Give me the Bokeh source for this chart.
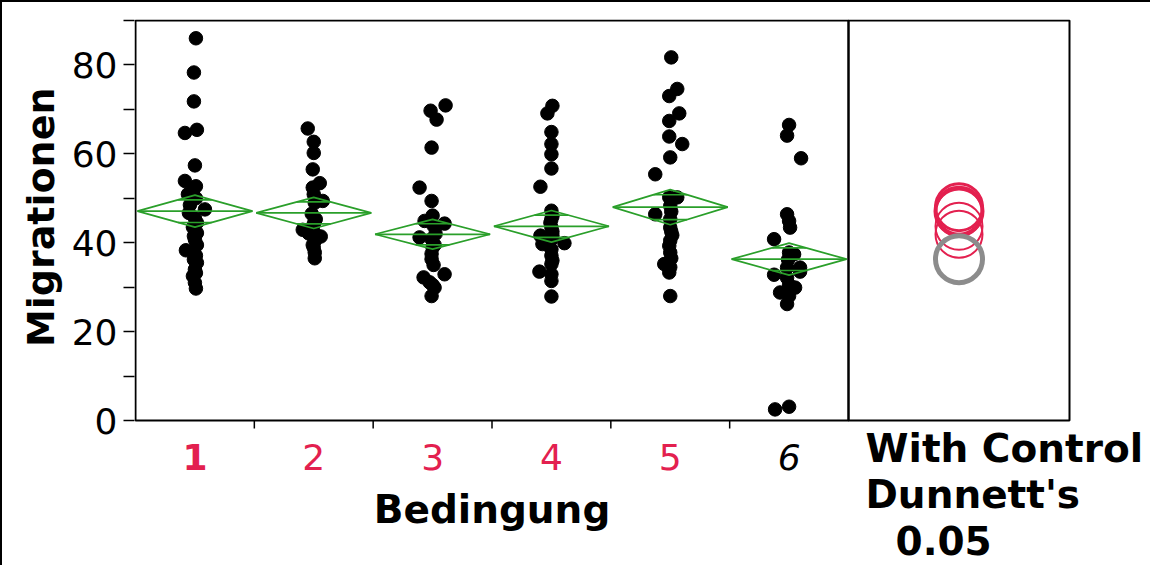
import math
from bokeh.plotting import figure
from bokeh.models import Range1d, FixedTicker, BoxAnnotation, ColumnDataSource, Title
from bokeh.core.properties import value
from bokeh.embed import file_html
from bokeh.resources import INLINE

# ---------------- data ----------------
categories = ["1", "2", "3", "4", "5", "6"]
cat_colors = ["#E3204F", "#E3204F", "#E3204F", "#E3204F", "#E3204F", "black"]
cat_styles = ["bold", "normal", "normal", "normal", "normal", "italic"]

g1 = [86.0, 78.3, 71.8, 65.4, 64.7, 57.4, 53.9, 52.7, 51.5, 50.9, 50.0, 48.5, 47.5, 46.7, 45.5,
      44.5, 43.5, 42.2, 41.5, 40.7, 39.5, 38.3, 37.1, 36.2, 35.5, 34.0, 33.2, 32.5, 31.0, 29.7]
g1_jit = [1, -1, -1, 2, -10, 0, -10, 1, -2, -7, 1, -5, 10, -6, 0,
          2, -2, 2, -1, 0, 2, -9, 1, -1, 2, 0, 1, -2, 0, 1]

g2 = [65.7, 62.7, 60.2, 56.5, 53.4, 52.4, 50.9, 49.4, 49.0, 46.5, 45.3, 44.8, 44.2, 43.5, 42.9,
      42.1, 41.8, 41.4, 40.4, 39.5, 38.9, 37.8, 36.5]
g2_jit = [-6, 0, 0, -1, 6, -1, 0, 9, 1, -2, 2, 1, 0, -1, -11,
          -5, 2, 7, 1, -1, 0, 1, 1]

g3 = [70.9, 69.7, 67.7, 61.4, 52.4, 49.4, 46.1, 44.9, 44.3, 43.8, 42.0, 41.2, 40.8, 39.5, 38.9,
      37.5, 36.3, 35.0, 32.9, 32.2, 31.1, 30.5, 29.9, 28.0]
g3_jit = [13, -2, 4, -1, -13, -1, 0, -8, 12, 1, 3, -13, -1, 2, 0,
          -1, -1, 1, 12, -9, -3, 0, 2, -1]

g4 = [70.8, 69.1, 64.9, 62.2, 59.9, 56.7, 52.6, 47.2, 46.0, 45.3, 44.5, 43.4, 42.5, 41.6, 41.6,
      40.8, 39.9, 39.7, 38.5, 37.1, 36.0, 35.2, 33.5, 32.9, 31.4, 27.9]
g4_jit = [1, -4, 0, 0, 0, 0, -11, 0, 1, 0, -1, 0, 1, -11, 1,
          0, 13, -9, 0, 0, 1, 0, -12, 0, 0, 0]

g5 = [81.7, 74.6, 73.0, 69.1, 67.4, 63.9, 62.2, 59.2, 55.4, 50.2, 50.2, 48.3, 47.0, 46.4, 45.3,
      43.4, 42.5, 41.7, 40.5, 39.3, 37.8, 36.5, 35.2, 34.5, 33.3, 28.0]
g5_jit = [1, 7, -1, 9, -1, -1, 12, 0, -15, 7, -1, 0, 1, -15, 0,
          0, 1, 2, 0, -1, 0, 1, -6, 0, -1, 0]

g6 = [66.5, 64.1, 59.0, 46.4, 44.9, 43.4, 40.8, 37.8, 37.4, 36.2, 34.4, 34.4, 33.5, 32.8, 32.1,
      30.5, 29.9, 28.8, 28.0, 26.2, 3.1, 2.5]
g6_jit = [0, -2, 12, -2, 0, 1, -15, 0, 5, -1, 11, -2, 11, -15, -2,
          0, 6, -9, 0, -2, 0, -14]

groups = [g1, g2, g3, g4, g5, g6]
jitters = [g1_jit, g2_jit, g3_jit, g4_jit, g5_jit, g6_jit]

# means diamonds (mean and 95% CI half-height)
means = [47.1, 46.7, 41.9, 43.7, 48.0, 36.3]
ci_half = [3.6, 3.5, 3.35, 3.55, 3.95, 3.6]

# comparison circles (Dunnett's with control = group 6)
circle_colors = ["#E3204F", "#E3204F", "#E3204F", "#E3204F", "#E3204F", "#8C8C8C"]
circle_widths = [4, 2, 2, 2, 3, 5]

y_major = [0, 20, 40, 60, 80]
y_minor = [10, 30, 50, 70, 90]
y_top = 90
x_title = "Bedingung"
y_title = "Migrationen"
side_text = ["With Control", "Dunnett's", "0.05"]

# ---------------- layout ----------------
GREEN = "#2A9F2A"
FONT = "DejaVu Sans"
W, H = 1150, 565
LEFT = 132          # canvas px left of the plotting area
TOP = 17            # canvas px above the plotting area
PANEL_H = 400       # px for 0..y_top
MAIN_W = 713        # px for the six categories
SIDE_W = 221        # px for the comparison-circle panel
n_cat = len(categories)
ppc = MAIN_W / n_cat            # px per category
ppu = PANEL_H / y_top           # px per y unit
x0 = -1 / ppc                   # data 0 sits 1px inside the frame edge
x1 = x0 + (W - LEFT) / ppc
y1 = y_top + 1 / ppu
y0 = y1 - (H - TOP) / ppu
side_end = n_cat + SIDE_W / ppc

p = figure(width=W, height=H, x_range=Range1d(x0, x1), y_range=Range1d(y0, y1),
           output_backend="svg", toolbar_location=None,
           min_border_left=LEFT, min_border_right=0, min_border_top=TOP, min_border_bottom=0)
p.styles = {"border-top": "2px solid black", "border-left": "2px solid black"}
p.xgrid.visible = False
p.ygrid.visible = False
p.xaxis.visible = False
p.background_fill_color = "white"
p.border_fill_color = "white"
p.outline_line_color = None

# y axis
ya = p.yaxis[0]
ya.ticker = FixedTicker(ticks=y_major, minor_ticks=y_minor)
ya.axis_line_color = None
ya.major_tick_out = 11
ya.major_tick_in = 0
ya.minor_tick_out = 11
ya.minor_tick_in = 0
ya.major_tick_line_width = 1.5
ya.minor_tick_line_width = 1.5
ya.major_tick_line_color = "black"
ya.minor_tick_line_color = "black"
ya.major_label_text_font = FONT
ya.major_label_text_font_size = "36px"
ya.major_label_text_color = "black"
ya.major_label_standoff = 6

# y axis title: its upper end placed from the top of the plotting area
p.add_layout(Title(text=y_title, align="right", offset=68,
                   text_font=FONT, text_font_style="bold", text_font_size="38px",
                   text_color="black", standoff=12), "left")

# panel frames
p.add_layout(BoxAnnotation(left=0, right=n_cat, bottom=0, top=y_top, fill_color=None,
                           line_color="black", line_width=2, line_alpha=1))
p.add_layout(BoxAnnotation(left=n_cat, right=side_end, bottom=0, top=y_top, fill_color=None,
                           line_color="black", line_width=2, line_alpha=1))

# x ticks at category boundaries
bounds = list(range(1, n_cat))
p.segment(x0=bounds, y0=[0] * len(bounds), x1=bounds, y1=[-8 / ppu] * len(bounds),
          line_color="black", line_width=1.5)

# points
xs, ys = [], []
for i, (vals, jit) in enumerate(zip(groups, jitters)):
    for v, j in zip(vals, jit):
        xs.append(i + 0.5 + j / ppc)
        ys.append(v)
p.scatter(x=xs, y=ys, size=13.5, marker="circle", fill_color="black", line_color="black")

# means diamonds
hw = 0.484
inner = hw * (1 - 1 / math.sqrt(2))
dx, dy, mx0, mx1, my = [], [], [], [], []
for i, (m, c) in enumerate(zip(means, ci_half)):
    cx = i + 0.5
    dx.append([cx - hw, cx, cx + hw, cx, cx - hw])
    dy.append([m, m + c, m, m - c, m])
    mx0 += [cx - hw, cx - inner, cx - inner]
    mx1 += [cx + hw, cx + inner, cx + inner]
    my += [m, m + c / math.sqrt(2), m - c / math.sqrt(2)]
p.multi_line(xs=dx, ys=dy, line_color=GREEN, line_width=1.7)
p.segment(x0=mx0, y0=my, x1=mx1, y1=my, line_color=GREEN, line_width=1.7)

# comparison circles
circle_x = (n_cat + side_end) / 2
src = ColumnDataSource(dict(x=[circle_x] * n_cat, y=means, c=circle_colors, w=circle_widths))
p.scatter(x="x", y="y", source=src, size=47, marker="circle", fill_color=None,
          line_color="c", line_width="w")

# category labels under the axis
lab = ColumnDataSource(dict(x=[i + 0.5 for i in range(n_cat)], y=[-36 / ppu] * n_cat,
                            t=categories, c=cat_colors, s=cat_styles))
p.text(x="x", y="y", text="t", source=lab, text_color="c", text_font_style="s",
       text_font=value(FONT), text_font_size="36px", text_align="center",
       text_baseline="middle")

# x axis title
p.text(x=[n_cat / 2], y=[-89 / ppu], text=[x_title], text_color="black",
       text_font_style="bold", text_font=value(FONT), text_font_size="39px",
       text_align="center", text_baseline="middle")

# side panel caption
side_x = [n_cat + 17 / ppc, n_cat + 17 / ppc, n_cat + 47 / ppc]
side_y = [-28 / ppu, -74 / ppu, -120 / ppu]
p.text(x=side_x, y=side_y, text=side_text, text_color="black", text_font_style="bold",
       text_font=value(FONT), text_font_size="39px", text_align="left",
       text_baseline="middle")

open("out.html", "w").write(file_html(p, INLINE))
